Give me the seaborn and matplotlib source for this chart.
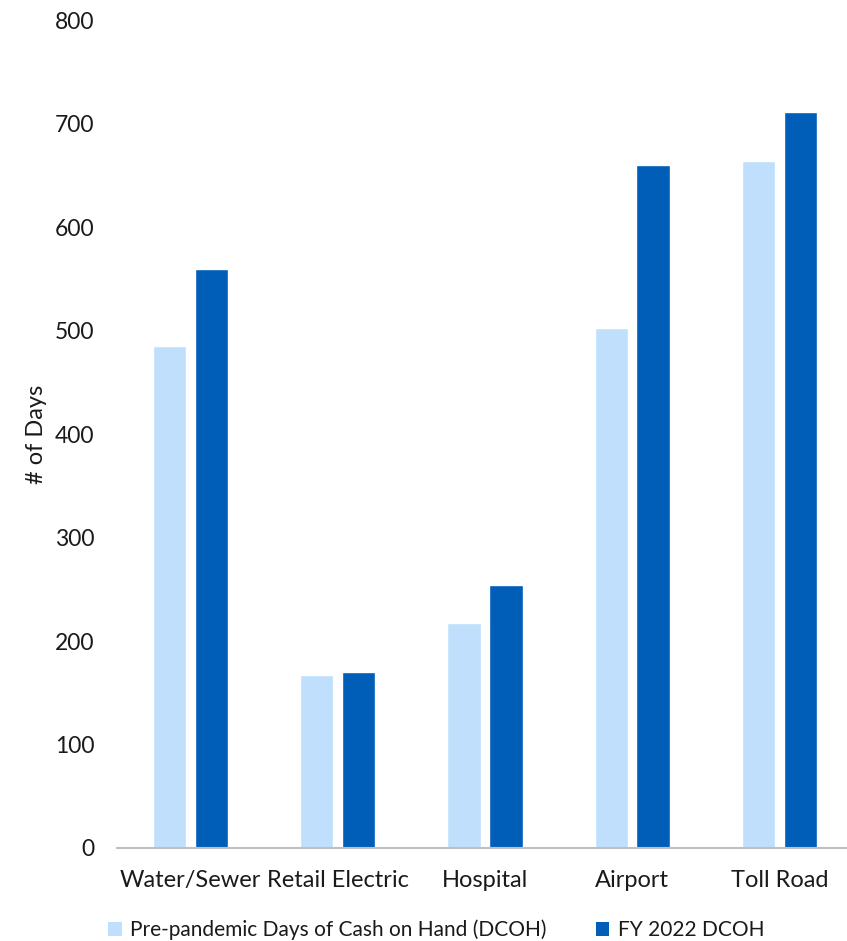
import matplotlib
matplotlib.use("Agg")
import matplotlib.pyplot as plt
import seaborn as sns
import pandas as pd
from matplotlib.patches import Patch

categories = ["Water/Sewer", "Retail Electric", "Hospital", "Airport", "Toll Road"]
pre_pandemic = [485, 167, 218, 503, 664]
fy2022 = [560, 170, 254, 660, 712]
series_names = ["Pre-pandemic Days of Cash on Hand (DCOH)", "FY 2022 DCOH"]
colors = ["#BFDFFD", "#005EB8"]
yticks = [0, 100, 200, 300, 400, 500, 600, 700, 800]

df = pd.DataFrame({
    "cat": categories * 2,
    "val": pre_pandemic + fy2022,
    "series": [series_names[0]] * len(categories) + [series_names[1]] * len(categories),
})

sns.set_theme(style="white")
plt.rcParams["font.family"] = ["Lato", "DejaVu Sans"]

fig = plt.figure(figsize=(8.47, 9.41), dpi=100)
ax = fig.add_axes([116.7 / 847, (941 - 848) / 941, (847 - 116.7) / 847, (848 - 20.5) / 941])

sns.barplot(data=df, x="cat", y="val", hue="series", hue_order=series_names,
            palette=colors, width=0.567, gap=0.2, saturation=1, ax=ax,
            legend=False, errorbar=None)

ax.set_xlim(-0.5, 4.458)
ax.set_ylim(0, 800)
ax.set_yticks(yticks)
ax.set_yticklabels([str(t) for t in yticks])
ax.set_xlabel("")
ax.set_ylabel("# of Days", fontsize=17, color="#1a1a1a", labelpad=6)
ax.tick_params(axis="y", length=0, pad=16, labelsize=16.5, labelcolor="#1a1a1a")
ax.tick_params(axis="x", length=0, pad=16, labelsize=17, labelcolor="#1a1a1a")
for s in ["top", "right", "left"]:
    ax.spines[s].set_visible(False)
ax.spines["bottom"].set_color("#BFBFBF")
ax.spines["bottom"].set_linewidth(1.5)

handles = [Patch(facecolor=c, edgecolor="none") for c in colors]
fig.legend(handles, series_names, loc="center left", bbox_to_anchor=(100 / 847, 1 - 930 / 941),
           ncol=2, frameon=False, fontsize=15, handlelength=0.65, handleheight=0.65,
           handletextpad=0.4, columnspacing=2.35, labelcolor="#1a1a1a", borderaxespad=0)

fig.savefig("out.png", dpi=100)
